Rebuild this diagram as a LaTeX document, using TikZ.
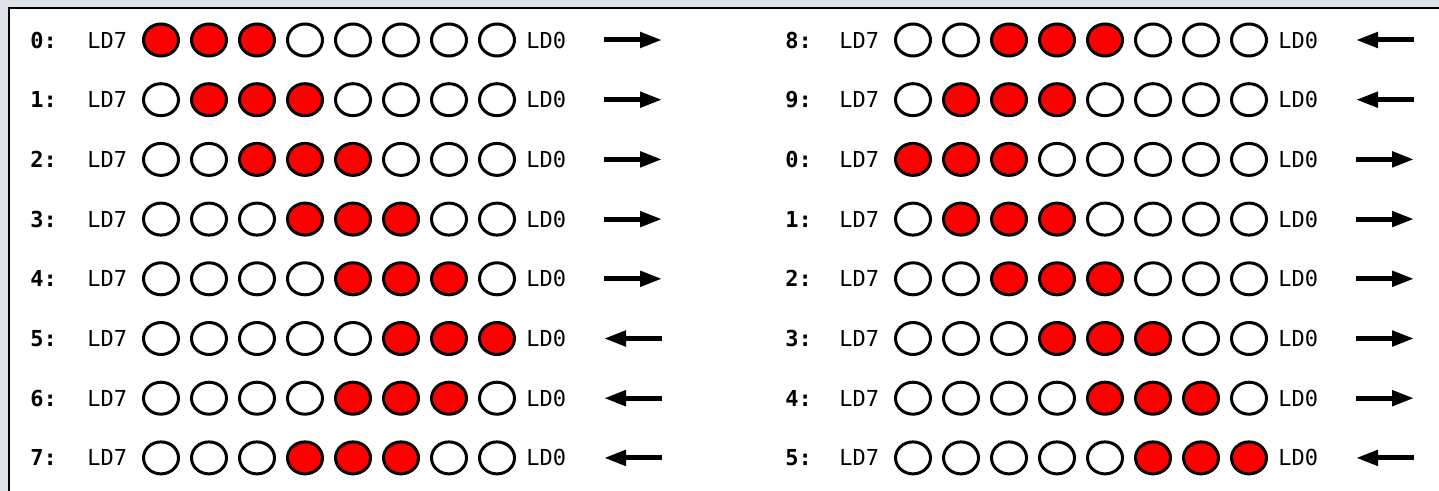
\documentclass[tikz,border=0pt]{standalone}
\usepackage{xcolor}
\usepackage{fontspec}
\setmonofont{DejaVu Sans Mono}
\usepackage{tikz}
\usetikzlibrary{shapes.geometric, positioning, arrows.meta}

\begin{document}
\begin{tikzpicture}[x=0.5pt,y=-0.5pt,
        led/.style={ellipse,draw,line width=1.5pt,minimum width=17.5pt,minimum height=16pt,inner sep=0pt},
        txt/.style={font=\fontsize{11}{13}\selectfont\ttfamily,inner sep=0pt},
        shiftarrow/.style={line width=2.5pt,-{Triangle[length=11pt,width=7.5pt]}}]
        \definecolor{ledred}{HTML}{FF0000}
        \definecolor{backgray}{HTML}{DDE3E8}
        \useasboundingbox (0,0) rectangle (1439,491);
        \clip (0,0) rectangle (1439,491);
        \fill[backgray] (0,0) rectangle (1439,491);
        \draw[line width=1.2pt,fill=white] (9,8) rectangle (1470,520);

        % step / first lit led / direction
        \foreach \num/\s/\d [count=\i from 0] in {0/0/1,1/1/1,2/2/1,3/3/1,4/4/1,5/5/-1,6/4/-1,7/3/-1,
                8/2/-1,9/1/-1,0/0/1,1/1/1,2/2/1,3/3/1,4/4/1,5/5/-1}{
            \pgfmathtruncatemacro\c{\i/8}
            \pgfmathtruncatemacro\rw{mod(\i,8)}
            \pgfmathsetmacro\yy{40+59.7*\rw}
            \pgfmathsetmacro\xa{633-29*\d+752*\c}
            \pgfmathsetmacro\xb{633+29*\d+752*\c}
            \node[txt,font=\fontsize{11}{13}\selectfont\ttfamily\bfseries,anchor=west] (n\i) at (30+755*\c,\yy) {\num:};
            \foreach \k in {0,...,7}{
                \pgfmathtruncatemacro\on{and(\k>=\s,\k<\s+3)}
                \ifnum\on=1 \def\fc{ledred}\else\def\fc{white}\fi
                \node[led,fill=\fc] (led\i-\k) at (161+48*\k+752*\c,\yy) {};
            }
            \node[txt,left=7.3pt of led\i-0] (hi\i) {LD7};
            \node[txt,right=5pt of led\i-7] (lo\i) {LD0};
            \coordinate (as\i) at (\xa,\yy);
            \coordinate (ae\i) at (\xb,\yy);
            \draw[shiftarrow] (as\i) -- (ae\i);
        }
    \end{tikzpicture}
\end{document}
